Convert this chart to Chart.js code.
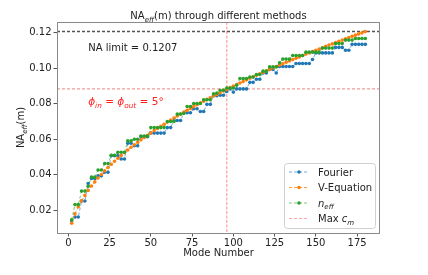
<!DOCTYPE html>
<html>
<head>
<meta charset="utf-8">
<script src="https://cdn.jsdelivr.net/npm/chart.js@4.4.0/dist/chart.umd.min.js"></script>
<style>
  html, body { margin: 0; padding: 0; background: #fff; }
  #wrap { width: 428px; height: 275px; }
</style>
</head>
<body>
<div id="wrap"><canvas id="naChart" width="428" height="275"></canvas></div>
<script>
// mode numbers (every second mode is plotted)
const MODES = [
  2, 4, 6, 8, 10, 12, 14, 16, 18, 20,
  22, 24, 26, 28, 30, 32, 34, 36, 38, 40,
  42, 44, 46, 48, 50, 52, 54, 56, 58, 60,
  62, 64, 66, 68, 70, 72, 74, 76, 78, 80,
  82, 84, 86, 88, 90, 92, 94, 96, 98, 100,
  102, 104, 106, 108, 110, 112, 114, 116, 118, 120,
  122, 124, 126, 128, 130, 132, 134, 136, 138, 140,
  142, 144, 146, 148, 150, 152, 154, 156, 158, 160,
  162, 164, 166, 168, 170, 172, 174, 176, 178, 180
];

const FOURIER = [
  0.0140, 0.0162, 0.0162, 0.0252, 0.0252, 0.0351, 0.0379, 0.0379, 0.0394, 0.0394,
  0.0414, 0.0414, 0.0508, 0.0508, 0.0508, 0.0489, 0.0489, 0.0578, 0.0578, 0.0564,
  0.0564, 0.0615, 0.0615, 0.0615, 0.0635, 0.0635, 0.0635, 0.0635, 0.0635, 0.0666,
  0.0666, 0.0706, 0.0706, 0.0706, 0.0750, 0.0750, 0.0750, 0.0772, 0.0772, 0.0757,
  0.0757, 0.0797, 0.0797, 0.0845, 0.0845, 0.0848, 0.0848, 0.0870, 0.0884, 0.0866,
  0.0884, 0.0884, 0.0884, 0.0884, 0.0921, 0.0921, 0.0938, 0.0938, 0.0974, 0.0974,
  0.0994, 0.0994, 0.0974, 0.1010, 0.1010, 0.1010, 0.1010, 0.1010, 0.1027, 0.1027,
  0.1027, 0.1027, 0.1027, 0.1050, 0.1087, 0.1087, 0.1087, 0.1087, 0.1087, 0.1087,
  0.1118, 0.1118, 0.1118, 0.1102, 0.1102, 0.1135, 0.1135, 0.1135, 0.1135, 0.1135
];

const V_EQUATION = [
  0.0127, 0.0180, 0.0220, 0.0254, 0.0284, 0.0312, 0.0337, 0.0360, 0.0382, 0.0402,
  0.0422, 0.0441, 0.0459, 0.0476, 0.0493, 0.0509, 0.0525, 0.0540, 0.0555, 0.0569,
  0.0583, 0.0597, 0.0610, 0.0623, 0.0636, 0.0649, 0.0661, 0.0673, 0.0685, 0.0697,
  0.0708, 0.0720, 0.0731, 0.0742, 0.0753, 0.0763, 0.0774, 0.0784, 0.0795, 0.0805,
  0.0815, 0.0825, 0.0834, 0.0844, 0.0853, 0.0863, 0.0872, 0.0881, 0.0891, 0.0900,
  0.0909, 0.0917, 0.0926, 0.0935, 0.0944, 0.0952, 0.0961, 0.0969, 0.0977, 0.0986,
  0.0994, 0.1002, 0.1010, 0.1018, 0.1026, 0.1034, 0.1041, 0.1049, 0.1057, 0.1064,
  0.1072, 0.1080, 0.1087, 0.1094, 0.1102, 0.1109, 0.1116, 0.1124, 0.1131, 0.1138,
  0.1145, 0.1152, 0.1159, 0.1166, 0.1173, 0.1180, 0.1187, 0.1194, 0.1200, 0.1207
];

const N_EFF = [
  0.0147, 0.0232, 0.0232, 0.0308, 0.0308, 0.0336, 0.0387, 0.0387, 0.0427, 0.0427,
  0.0463, 0.0463, 0.0510, 0.0510, 0.0527, 0.0527, 0.0527, 0.0591, 0.0591, 0.0600,
  0.0600, 0.0619, 0.0619, 0.0619, 0.0666, 0.0666, 0.0666, 0.0666, 0.0666, 0.0700,
  0.0700, 0.0700, 0.0742, 0.0742, 0.0745, 0.0785, 0.0785, 0.0802, 0.0802, 0.0802,
  0.0823, 0.0823, 0.0823, 0.0857, 0.0860, 0.0876, 0.0876, 0.0889, 0.0889, 0.0889,
  0.0905, 0.0942, 0.0942, 0.0942, 0.0951, 0.0951, 0.0965, 0.0965, 0.0984, 0.0984,
  0.1008, 0.1008, 0.1008, 0.1031, 0.1052, 0.1052, 0.1052, 0.1072, 0.1072, 0.1072,
  0.1072, 0.1091, 0.1091, 0.1091, 0.1091, 0.1091, 0.1114, 0.1114, 0.1114, 0.1114,
  0.1140, 0.1140, 0.1140, 0.1159, 0.1159, 0.1159, 0.1168, 0.1168, 0.1168, 0.1168
];

const X_TICKS = [0, 25, 50, 75, 100, 125, 150, 175];
const Y_TICKS = [0.02, 0.04, 0.06, 0.08, 0.10, 0.12];
const X_RANGE = [-6.9, 188.9];
const Y_RANGE = [0.0072, 0.1261];

const NA_LIMIT = 0.1207;     // black dashed line
const ANGLE_NA = 0.0884;     // red dashed line (phi = 5 deg)
const MAX_CM = 96;           // pink vertical line

const FONT = '"DejaVu Sans", "Liberation Sans", sans-serif';

function partFont(p, size) {
  const s = p.sub ? size * 0.7 : size;
  return (p.italic ? 'italic ' : '') + s + 'px ' + FONT;
}

// draws a run of text pieces, some italic / subscript
function drawRich(ctx, parts, x, y, align, size, color) {
  const widths = parts.map(p => {
    ctx.font = partFont(p, size);
    return ctx.measureText(p.t).width;
  });
  const total = widths.reduce((a, b) => a + b, 0);
  let cx = x;
  if (align === 'center') cx = x - total / 2;
  if (align === 'right') cx = x - total;
  ctx.fillStyle = color;
  ctx.textAlign = 'left';
  parts.forEach((p, i) => {
    ctx.font = partFont(p, size);
    ctx.fillText(p.t, cx, y + (p.sub ? size * 0.28 : 0));
    cx += widths[i];
  });
}

const refLines = {
  id: 'refLines',
  beforeDatasetsDraw(chart) {
    const { ctx, chartArea: a, scales } = chart;
    ctx.save();

    // NA limit
    let py = scales.y.getPixelForValue(NA_LIMIT);
    ctx.strokeStyle = '#555';
    ctx.lineWidth = 1.5;
    ctx.setLineDash([3, 2]);
    ctx.beginPath();
    ctx.moveTo(a.left, py);
    ctx.lineTo(a.right, py);
    ctx.stroke();

    // phi line
    py = scales.y.getPixelForValue(ANGLE_NA);
    ctx.strokeStyle = 'rgba(230,60,60,0.8)';
    ctx.lineWidth = 0.8;
    ctx.setLineDash([3, 2]);
    ctx.beginPath();
    ctx.moveTo(a.left, py);
    ctx.lineTo(a.right, py);
    ctx.stroke();

    // max c_m
    const px = scales.x.getPixelForValue(MAX_CM);
    ctx.strokeStyle = 'rgba(255,0,0,0.3)';
    ctx.lineWidth = 1.5;
    ctx.setLineDash([3, 1.5]);
    ctx.beginPath();
    ctx.moveTo(px, a.top);
    ctx.lineTo(px, a.bottom);
    ctx.stroke();

    ctx.restore();
  }
};

const legendItems = [
  { parts: [{ t: 'Fourier' }], line: 'rgba(31,119,180,0.6)', dot: '#1f77b4' },
  { parts: [{ t: 'V-Equation' }], line: 'rgba(255,127,14,0.8)', dot: '#ff7f0e' },
  { parts: [{ t: 'n', italic: true }, { t: 'eff', italic: true, sub: true }], line: 'rgba(44,160,44,0.6)', dot: '#2ca02c' },
  { parts: [{ t: 'Max ' }, { t: 'c', italic: true }, { t: 'm', italic: true, sub: true }], line: 'rgba(255,0,0,0.35)', dot: null }
];

const decorations = {
  id: 'decorations',
  afterDraw(chart) {
    const { ctx, chartArea: a, scales } = chart;
    ctx.save();
    ctx.textBaseline = 'alphabetic';

    // frame
    ctx.strokeStyle = '#8a8a8a';
    ctx.lineWidth = 1;
    ctx.setLineDash([]);
    ctx.strokeRect(a.left + 0.5, a.top + 0.5, a.right - a.left - 1, a.bottom - a.top);

    // title
    drawRich(ctx, [{ t: 'NA' }, { t: 'eff', italic: true, sub: true }, { t: '(m) through different methods' }],
      (a.left + a.right) / 2, 19, 'center', 10, '#222');

    // x label
    drawRich(ctx, [{ t: 'Mode Number' }], (a.left + a.right) / 2, 256, 'center', 10, '#222');

    // y label
    ctx.save();
    ctx.translate(24, (a.top + a.bottom) / 2);
    ctx.rotate(-Math.PI / 2);
    drawRich(ctx, [{ t: 'NA' }, { t: 'eff', italic: true, sub: true }, { t: '(m)' }], 0, 0, 'center', 10, '#222');
    ctx.restore();

    // annotations
    drawRich(ctx, [{ t: 'NA limit = 0.1207' }],
      scales.x.getPixelForValue(12), scales.y.getPixelForValue(0.1098), 'left', 10, '#222');
    drawRich(ctx, [
      { t: 'ϕ', italic: true }, { t: 'in', italic: true, sub: true }, { t: ' = ' },
      { t: 'ϕ', italic: true }, { t: 'out', italic: true, sub: true }, { t: ' = 5°' }
    ], scales.x.getPixelForValue(12), scales.y.getPixelForValue(0.0794), 'left', 10.5, '#ff2020');

    // legend
    const lx = 284, ly = 163, lw = 91, lh = 65;
    ctx.fillStyle = 'rgba(255,255,255,0.85)';
    ctx.strokeStyle = '#d0d0d0';
    ctx.lineWidth = 1;
    ctx.beginPath();
    ctx.roundRect(lx + 0.5, ly + 0.5, lw, lh, 3);
    ctx.fill();
    ctx.stroke();
    legendItems.forEach((it, i) => {
      const yy = ly + 9 + i * 15.5;
      ctx.strokeStyle = it.line;
      ctx.lineWidth = 1;
      ctx.setLineDash([3, 2]);
      ctx.beginPath();
      ctx.moveTo(lx + 5, yy);
      ctx.lineTo(lx + 25, yy);
      ctx.stroke();
      ctx.setLineDash([]);
      if (it.dot) {
        ctx.fillStyle = it.dot;
        ctx.beginPath();
        ctx.arc(lx + 15, yy, 1.8, 0, Math.PI * 2);
        ctx.fill();
      }
      drawRich(ctx, it.parts, lx + 34, yy + 3.5, 'left', 10, '#222');
    });

    ctx.restore();
  }
};

function series(label, values, lineColor, dotColor, order) {
  return {
    label,
    data: MODES.map((m, i) => ({ x: m, y: values[i] })),
    borderColor: lineColor,
    borderWidth: 1,
    borderDash: [3, 2],
    pointRadius: 1.8,
    pointBorderWidth: 0,
    pointBackgroundColor: dotColor,
    backgroundColor: dotColor,
    tension: 0,
    order
  };
}

const ctx = document.getElementById('naChart');

new Chart(ctx, {
  type: 'line',
  data: {
    datasets: [
      series('Fourier', FOURIER, 'rgba(31,119,180,0.6)', '#1f77b4', 3),
      series('V-Equation', V_EQUATION, 'rgba(255,127,14,0.8)', '#ff7f0e', 2),
      series('n_eff', N_EFF, 'rgba(44,160,44,0.6)', '#2ca02c', 1)
    ]
  },
  options: {
    responsive: false,
    animation: false,
    layout: { padding: { left: 0, top: 22, right: 48, bottom: 0 } },
    plugins: {
      legend: { display: false },
      title: { display: false },
      tooltip: { enabled: false }
    },
    scales: {
      x: {
        type: 'linear',
        min: X_RANGE[0],
        max: X_RANGE[1],
        afterBuildTicks: s => { s.ticks = X_TICKS.map(v => ({ value: v })); },
        afterFit: s => { s.height = 42; },
        border: { display: false },
        grid: { drawOnChartArea: false, drawTicks: true, tickLength: 3.5, color: '#555' },
        ticks: {
          color: '#222',
          padding: 1,
          maxRotation: 0,
          font: { family: FONT, size: 10 },
          callback: v => String(v)
        }
      },
      y: {
        type: 'linear',
        min: Y_RANGE[0],
        max: Y_RANGE[1],
        afterBuildTicks: s => { s.ticks = Y_TICKS.map(v => ({ value: v })); },
        afterFit: s => { s.width = 57; },
        border: { display: false },
        grid: { drawOnChartArea: false, drawTicks: true, tickLength: 3.5, color: '#555' },
        ticks: {
          color: '#222',
          padding: 2,
          font: { family: FONT, size: 10 },
          callback: v => Number(v).toFixed(2)
        }
      }
    }
  },
  plugins: [refLines, decorations]
});
</script>
</body>
</html>
